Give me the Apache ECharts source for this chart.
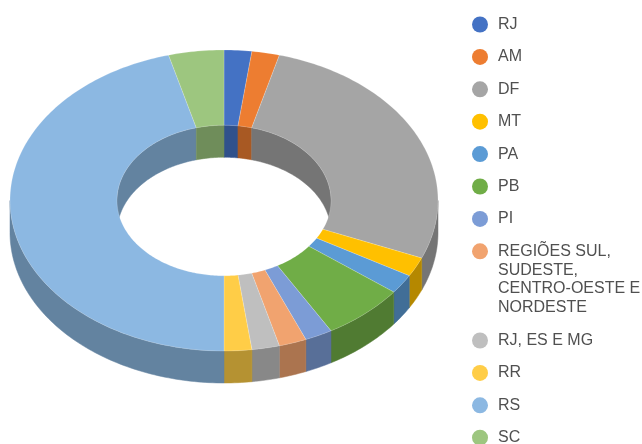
<!DOCTYPE html>
<html>
<head>
<meta charset="utf-8">
<style>
  html, body { margin: 0; padding: 0; background: #fff; }
  #chart { width: 642px; height: 444px; }
</style>
</head>
<body>
<div id="chart"></div>
<script src="https://cdn.jsdelivr.net/npm/echarts@6/dist/echarts.min.js"></script>
<script>
var categories = ["RJ", "AM", "DF", "MT", "PA", "PB", "PI", "REGIÕES SUL,\nSUDESTE,\nCENTRO-OESTE E\nNORDESTE", "RJ, ES E MG", "RR", "RS", "SC"];
var values = [1, 1, 13, 1, 1, 3, 1, 1, 1, 1, 22, 2];
var colors = ["#4472C4", "#ED7D31", "#A5A5A5", "#FFC000", "#5B9BD5", "#70AD47", "#7C9CD6", "#F1A36F", "#BFBFBF", "#FFCD47", "#8CB8E2", "#9DC67F"];

// geometria da rosca 3D (elipse da face superior)
var cx = 224, cy = 200.5, rx = 214, ry = 150.5, holeRatio = 0.5, depth = 32;
var total = values.reduce(function (a, b) { return a + b; }, 0);
var fontFamily = '"Liberation Sans", Arial, sans-serif';

function pt(angle, ratio, dy) {
  return [cx + rx * ratio * Math.sin(angle), cy + dy - ry * ratio * Math.cos(angle)];
}

function arc(a0, a1, ratio, dy) {
  var n = Math.max(2, Math.ceil((a1 - a0) / (Math.PI / 180)));
  var pts = [];
  for (var i = 0; i <= n; i++) {
    pts.push(pt(a0 + (a1 - a0) * i / n, ratio, dy));
  }
  return pts;
}

// parte de [a0, a1] dentro de [lo, hi]
function clip(a0, a1, lo, hi) {
  var s = Math.max(a0, lo), e = Math.min(a1, hi);
  return e > s ? [s, e] : null;
}

function darken(hex) {
  var c = echarts.color.parse(hex);
  return "rgb(" + Math.round(c[0] * 0.71) + "," + Math.round(c[1] * 0.71) + "," + Math.round(c[2] * 0.71) + ")";
}

function wall(range, ratio, color) {
  var top = arc(range[0], range[1], ratio, 0);
  var bottom = arc(range[0], range[1], ratio, depth).reverse();
  return {
    type: "polygon",
    z2: 1,
    shape: { points: top.concat(bottom) },
    style: { fill: color, stroke: color, lineWidth: 0.5 }
  };
}

var series = [];
var sum = 0;
values.forEach(function (v, i) {
  var a0 = (sum / total) * Math.PI * 2;
  sum += v;
  var a1 = (sum / total) * Math.PI * 2;
  series.push({
    type: "custom",
    name: categories[i],
    coordinateSystem: "none",
    silent: true,
    itemStyle: { color: colors[i] },
    data: [[v]],
    renderItem: function () {
      var shade = darken(colors[i]);
      var children = [];
      // parede externa: metade de baixo
      var outer = clip(a0, a1, Math.PI / 2, Math.PI * 1.5);
      if (outer) children.push(wall(outer, 1, shade));
      // parede interna: metade de cima
      [clip(a0, a1, 0, Math.PI / 2), clip(a0, a1, Math.PI * 1.5, Math.PI * 2)].forEach(function (r) {
        if (r) children.push(wall(r, holeRatio, shade));
      });
      children.push({
        type: "polygon",
        z2: 2,
        shape: { points: arc(a0, a1, 1, 0).concat(arc(a0, a1, holeRatio, 0).reverse()) },
        style: { fill: colors[i], stroke: "rgba(255,255,255,0.3)", lineWidth: 0.6 }
      });
      return { type: "group", children: children };
    }
  });
});

function legendAt(names, top) {
  return {
    orient: "vertical",
    left: 472,
    top: top,
    height: 300,
    padding: 0,
    icon: "circle",
    itemWidth: 26,
    itemHeight: 16,
    itemGap: 13.4,
    selectedMode: false,
    data: names,
    formatter: function (name) { return name.split("\n")[0]; },
    textStyle: { color: "#505050", fontSize: 16, lineHeight: 19, fontFamily: fontFamily }
  };
}

var chart = echarts.init(document.getElementById("chart"), null, { renderer: "canvas" });
chart.setOption({
  animation: false,
  backgroundColor: "#fff",
  legend: [legendAt(categories.slice(0, 8), 15), legendAt(categories.slice(8), 331)],
  // linhas seguintes do item longo da legenda
  graphic: [{
    type: "text",
    left: 498,
    top: 261,
    silent: true,
    style: {
      text: categories[7].split("\n").slice(1).join("\n"),
      fill: "#505050",
      font: "16px " + fontFamily,
      lineHeight: 18.7
    }
  }],
  series: series
});
</script>
</body>
</html>
